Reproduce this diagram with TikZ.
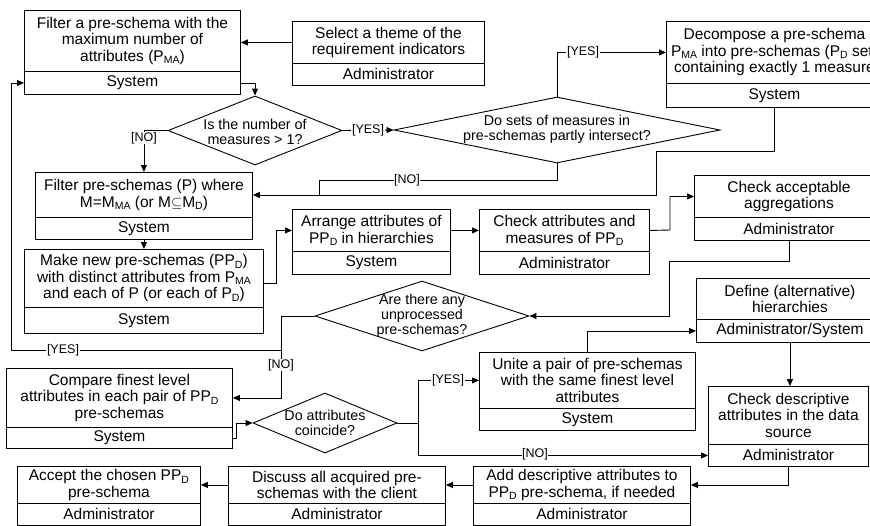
\documentclass[tikz,border=0pt]{standalone}
\usepackage{fontspec}
\setmainfont{Liberation Sans}
\usetikzlibrary{shapes.geometric,arrows.meta}
\newcommand\ssub[1]{\raisebox{-0.3ex}{\fontsize{10.5}{10.5}\selectfont #1}}
\newcommand\actbox[8]{%
  \node[box, anchor=north west, minimum width={(#4-#2)*1pt}, minimum height={(#5-#3)*1pt}] (#1) at (#2,#3) {#7};
  \node[box, anchor=north west, minimum width={(#4-#2)*1pt}, minimum height={(#6-#5)*1pt}] (#1s) at (#2,#5) {#8};
}
\begin{document}
\begin{tikzpicture}[x=1pt,y=-1pt,
  box/.style={draw, line width=0.9pt, inner sep=0pt, align=center, font=\fontsize{15.5}{16.5}\selectfont},
  dia/.style={draw, line width=0.9pt, shape=diamond, inner sep=0pt},
  dtext/.style={align=center, inner sep=0pt, font=\fontsize{14.3}{15.2}\selectfont},
  lab/.style={fill=white, inner sep=0.6pt, font=\fontsize{12.5}{13}\selectfont},
  con/.style={line width=0.9pt},
  arr/.style={con, -{Triangle[length=7pt,width=6pt]}}]
\useasboundingbox (0,0) rectangle (870,525);
\clip (0,0) rectangle (870,525);
\fill[white] (0,0) rectangle (870,525);

\actbox{b1}{24}{10}{240}{71}{94}{Filter a pre-schema with the\\maximum number of\\attributes (P\ssub{MA})}{System}
\actbox{b2}{292}{21}{484}{63}{85}{Select a theme of the\\requirement indicators}{Administrator}
\actbox{b3}{666}{21}{882}{83}{107}{Decompose a pre-schema\\P\ssub{MA} into pre-schemas (P\ssub{D} set)\\containing exactly 1 measure}{System}
\actbox{b4}{35}{172}{252}{217}{239}{Filter pre-schemas (P) where\\M=M\ssub{MA} (or M$\subseteq$M\ssub{D})}{System}
\actbox{b5}{24}{249}{263}{307}{333}{Make new pre-schemas (PP\ssub{D})\\with distinct attributes from P\ssub{MA}\\and each of P (or each of P\ssub{D})}{System}
\actbox{b6}{292}{209}{450}{251}{274}{Arrange attributes of\\PP\ssub{D} in hierarchies}{System}
\actbox{b7}{479}{209}{649}{251}{274}{Check attributes and\\measures of PP\ssub{D}}{Administrator}
\actbox{b8}{694}{175}{883}{217}{240}{Check acceptable\\aggregations}{Administrator}
\actbox{b9}{696}{278}{883}{319}{342}{Define (alternative)\\hierarchies}{Administrator/System}
\actbox{b10}{479}{352}{695}{408}{430}{Unite a pair of pre-schemas\\with the same finest level\\attributes}{System}
\actbox{b11}{6}{368}{232}{427}{448}{Compare finest level\\attributes in each pair of PP\ssub{D}\\pre-schemas}{System}
\actbox{b12}{708}{386}{868}{444}{466}{Check descriptive\\attributes in the data\\source}{Administrator}
\actbox{b13}{473}{466}{690}{503}{525}{Add descriptive attributes to\\PP\ssub{D} pre-schema, if needed}{Administrator}
\actbox{b14}{228}{466}{445}{503}{525}{Discuss all acquired pre-\\schemas with the client}{Administrator}
\actbox{b15}{17}{466}{200}{503}{525}{Accept the chosen PP\ssub{D}\\pre-schema}{Administrator}

\node[dia, minimum width=174pt, minimum height=69pt] (d1) at (255,130.5) {};
\node[dtext] (d1t) at (255,132) {Is the number of\\measures > 1?};
\node[dia, minimum width=326pt, minimum height=66pt] (d2) at (557,130) {};
\node[dtext] (d2t) at (557,129.5) {Do sets of measures in\\pre-schemas partly intersect?};
\node[dia, minimum width=214pt, minimum height=70pt] (d3) at (422,316) {};
\node[dtext] (d3t) at (422,315.5) {Are there any\\unprocessed\\pre-schemas?};
\node[dia, minimum width=144pt, minimum height=60pt] (d4) at (325,423) {};
\node[dtext] (d4t) at (325,422.5) {Do attributes\\coincide?};

\coordinate (m1) at (656,151);
\coordinate (m2) at (319,180);
\coordinate (m3) at (276,283);
\coordinate (m4) at (670,230);
\coordinate (m5) at (669,261);
\coordinate (m6) at (281,350);
\coordinate (m7) at (11,350);
\coordinate (m8) at (236,437);
\coordinate (m9) at (418,423);

\draw[arr] (b2.west) -- (b2.west -| b1.east);
\draw[arr] (b1s.east) -| (d1.north);
\draw[arr] (d1.west) -| (b4.north);
\draw[arr] (d1.east) -- (d2.west);
\draw[arr] (d2.north) |- (b3.west);
\draw[arr] (b3s.south) |- (m1) |- (b4.east);
\draw[con] (d2.south) |- (m2) -- (m2 |- b4.east);
\draw[arr] (b4s.south) -- (b5.north);
\draw[arr] (m3 -| b5.east) -- (m3) |- (b6.west);
\draw[arr] (b6.east) -- (b7.west);
\draw[arr] (b7.east) -- (m4) |- (b8.west);
\draw[arr] (b8s.south) |- (m5) |- (d3.east);
\draw[arr] (d3.west) -| (m6) -- (m7) |- (b1s.west);
\draw[arr] (m6) |- (b11.east);
\draw[arr] (b11s.east) -- (b11s.east -| m8) |- (d4.west);
\draw[arr] (d4.east) -- (m9) |- (b10.west);
\draw[arr] (m9) |- (b12s.west);
\draw[arr] (b10.north) |- (b9s.west);
\draw[arr] (b9s.south) -- (b9s.south |- b12.north);
\draw[arr] (b12s.south) |- (b13.east);
\draw[arr] (b13.west) -- (b14.east);
\draw[arr] (b14.west) -- (b15.east);

\node[lab] (l1) at (144,138) {[NO]};
\node[lab] (l2) at (368,130) {[YES]};
\node[lab] (l3) at (583,52) {[YES]};
\node[lab] (l4) at (407,180) {[NO]};
\node[lab] (l5) at (63,350) {[YES]};
\node[lab] (l6) at (281,365) {[NO]};
\node[lab] (l7) at (448,380) {[YES]};
\node[lab] (l8) at (535,454) {[NO]};
\end{tikzpicture}
\end{document}
